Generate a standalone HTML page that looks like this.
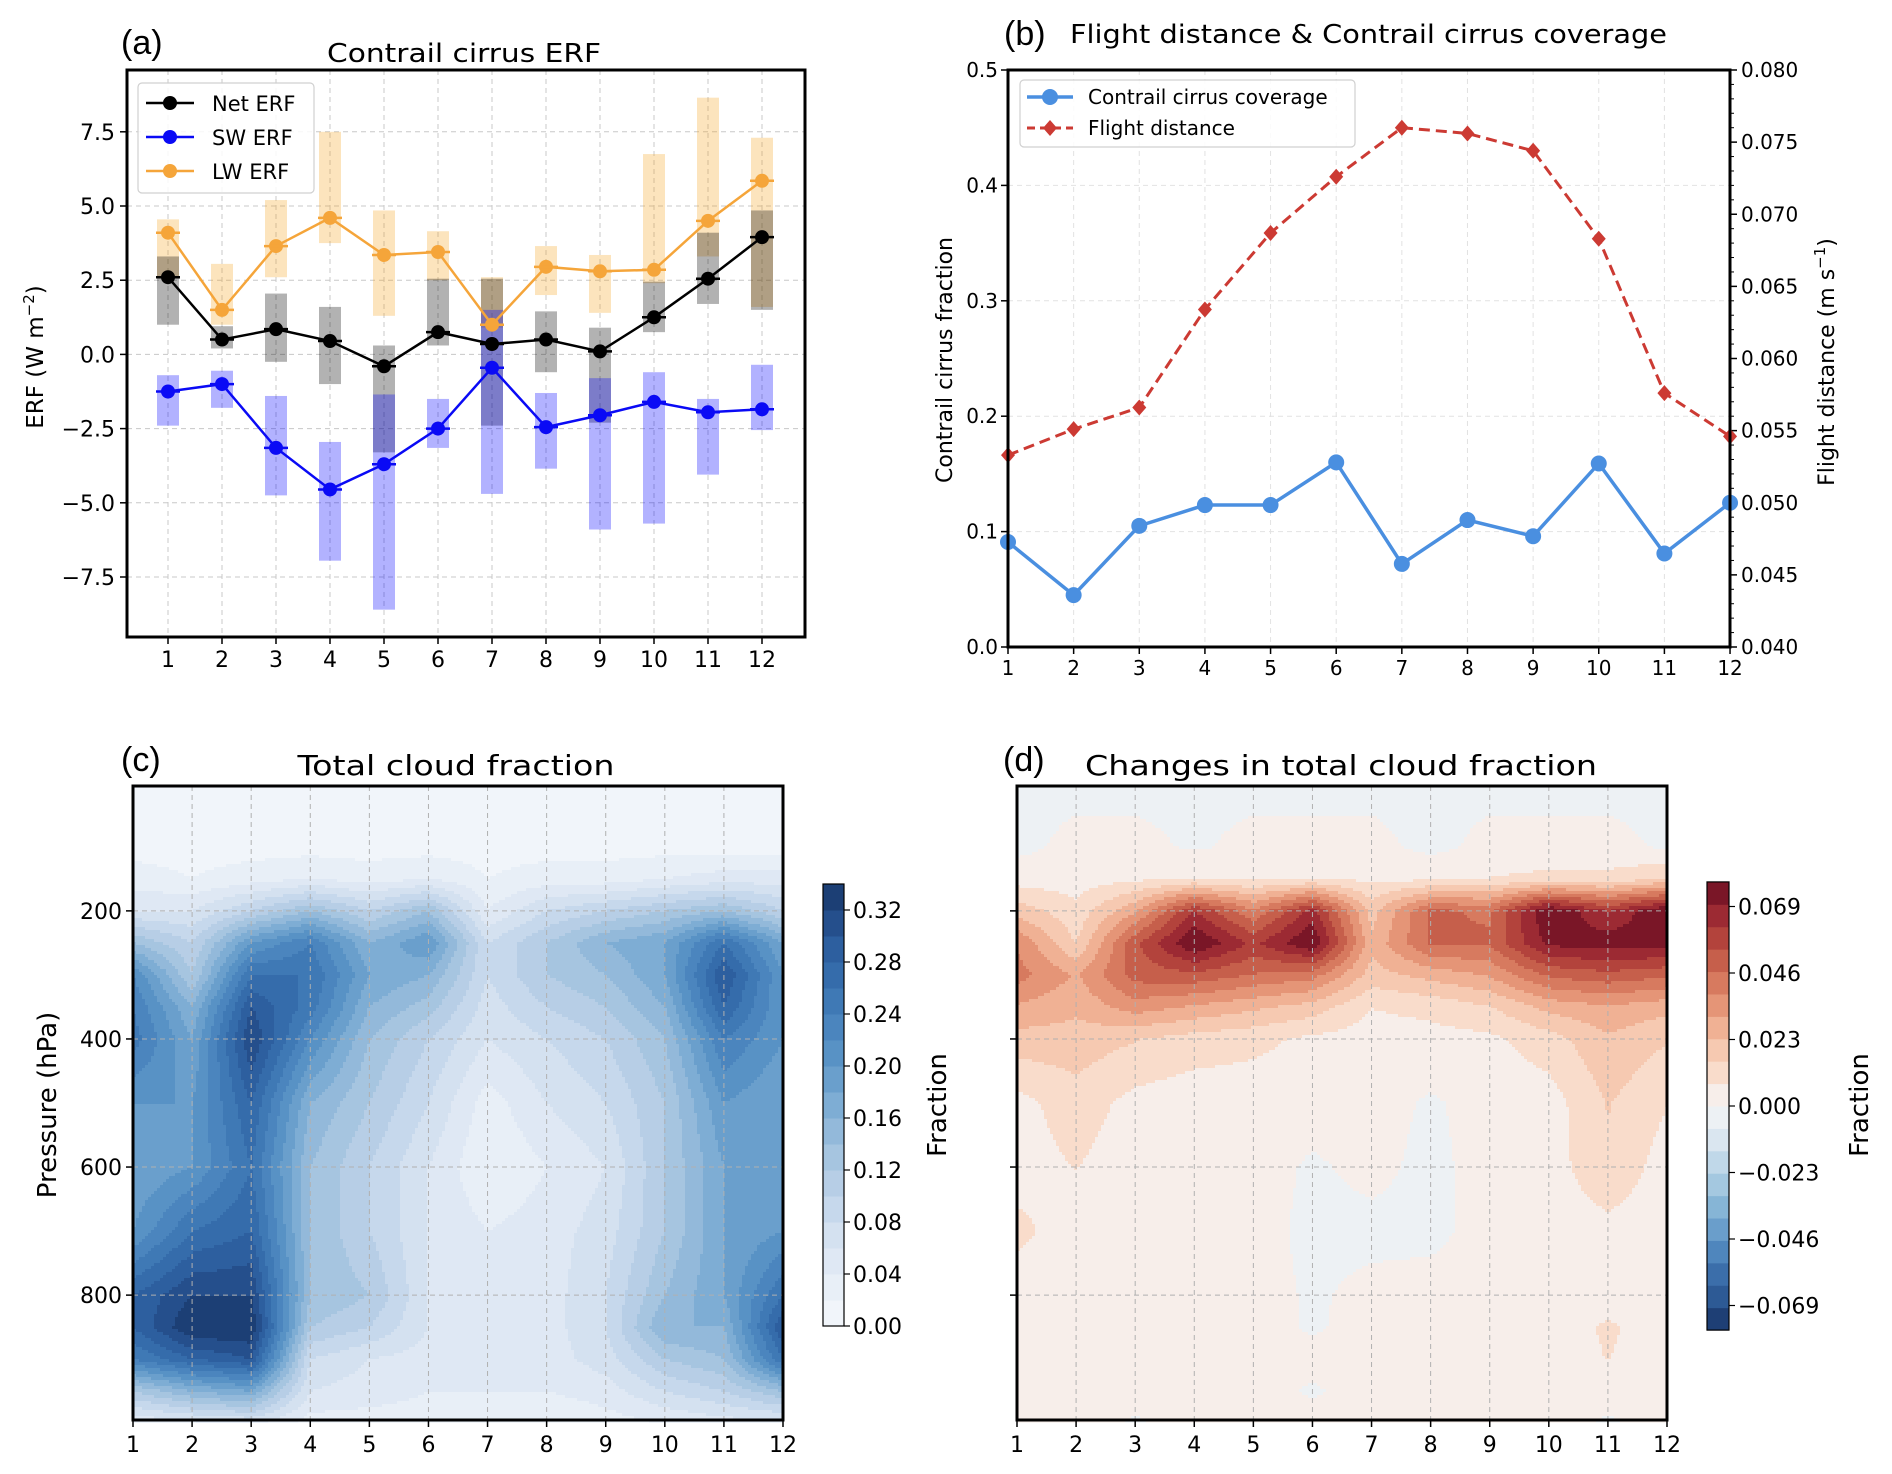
<!DOCTYPE html>
<html><head><meta charset="utf-8"><style>
html,body{margin:0;padding:0;background:#fff;}
svg{display:block;font-family:"DejaVu Sans","Liberation Sans",sans-serif;}
</style></head><body>
<svg id="fig" width="1892" height="1474" viewBox="0 0 1892 1474" xmlns="http://www.w3.org/2000/svg">
<g id="gA"></g>
<g id="gB"></g>
<g id="gC"></g>
<g id="gD"></g>
</svg>
<script>
// ---------- Panel (a) data ----------
const months = [1,2,3,4,5,6,7,8,9,10,11,12];
const netERF = [2.6,0.5,0.85,0.45,-0.4,0.75,0.35,0.5,0.1,1.25,2.55,3.95];
const swERF = [-1.25,-1.0,-3.15,-4.55,-3.7,-2.5,-0.45,-2.45,-2.05,-1.6,-1.95,-1.85];
const lwERF = [4.1,1.5,3.65,4.6,3.35,3.45,1.0,2.95,2.8,2.85,4.5,5.85];
const netLo = [1.0,0.2,-0.25,-1.0,-3.3,0.3,-2.4,-0.6,-2.3,0.75,1.7,1.5];
const netHi = [3.3,0.95,2.05,1.6,0.3,2.55,2.55,1.45,0.9,2.45,4.1,4.85];
const swLo = [-2.4,-1.8,-4.75,-6.95,-8.6,-3.15,-4.7,-3.85,-5.9,-5.7,-4.05,-2.55];
const swHi = [-0.7,-0.55,-1.4,-2.95,-1.35,-1.5,1.5,-1.3,-0.8,-0.6,-1.5,-0.35];
const lwLo = [2.6,1.0,2.6,3.75,1.3,2.5,0.9,2.0,1.4,2.4,3.3,1.6];
const lwHi = [4.55,3.05,5.2,7.5,4.85,4.15,2.6,3.65,3.35,6.75,8.65,7.3];
const erfTicks = [-7.5,-5.0,-2.5,0.0,2.5,5.0,7.5];
// ---------- Panel (b) data ----------
const coverage = [0.091,0.045,0.105,0.123,0.123,0.160,0.072,0.110,0.096,0.159,0.081,0.125];
const flightDist = [0.0533,0.0551,0.0566,0.0634,0.0687,0.0726,0.0760,0.0756,0.0744,0.0683,0.0576,0.0546];
const covTicks = [0.0,0.1,0.2,0.3,0.4,0.5];
const distTicks = [0.040,0.045,0.050,0.055,0.060,0.065,0.070,0.075,0.080];
// ---------- Panel (c)/(d) data ----------
const pressureLevels = [0,100,150,200,250,300,350,400,500,600,700,800,850,900,950,1000];
const cloudFraction = [
[0.01,0.01,0.01,0.01,0.01,0.01,0.01,0.01,0.01,0.01,0.01,0.01],
[0.012,0.012,0.012,0.012,0.012,0.012,0.012,0.012,0.012,0.012,0.012,0.012],
[0.03,0.02,0.03,0.04,0.03,0.04,0.02,0.03,0.03,0.04,0.05,0.05],
[0.06,0.06,0.10,0.14,0.10,0.14,0.04,0.08,0.10,0.12,0.14,0.10],
[0.14,0.10,0.20,0.24,0.16,0.20,0.08,0.12,0.16,0.18,0.26,0.18],
[0.22,0.12,0.26,0.26,0.18,0.16,0.08,0.12,0.14,0.18,0.30,0.20],
[0.24,0.16,0.30,0.25,0.16,0.13,0.07,0.10,0.12,0.16,0.28,0.20],
[0.25,0.18,0.32,0.22,0.14,0.10,0.06,0.08,0.10,0.14,0.24,0.20],
[0.20,0.20,0.28,0.16,0.12,0.08,0.03,0.06,0.08,0.12,0.20,0.18],
[0.18,0.20,0.26,0.14,0.10,0.06,0.02,0.04,0.06,0.12,0.18,0.18],
[0.20,0.26,0.28,0.14,0.10,0.06,0.04,0.05,0.07,0.12,0.18,0.20],
[0.28,0.32,0.32,0.14,0.12,0.06,0.05,0.05,0.08,0.14,0.18,0.26],
[0.28,0.34,0.34,0.12,0.10,0.06,0.05,0.05,0.08,0.16,0.16,0.30],
[0.24,0.28,0.30,0.08,0.06,0.05,0.05,0.05,0.07,0.12,0.14,0.26],
[0.12,0.16,0.18,0.06,0.05,0.04,0.04,0.04,0.05,0.08,0.10,0.14],
[0.04,0.05,0.06,0.03,0.03,0.03,0.02,0.02,0.03,0.04,0.05,0.05]];
const cloudChange = [
[-0.002,-0.002,-0.002,-0.002,-0.002,-0.002,-0.002,-0.002,-0.002,-0.002,-0.002,-0.002],
[-0.002,0.002,0.002,-0.001,0.002,0.002,0.002,-0.002,0.002,0.002,0.002,-0.001],
[0.004,0.004,0.006,0.008,0.006,0.008,0.006,0.006,0.008,0.010,0.010,0.016],
[0.02,0.01,0.03,0.062,0.04,0.065,0.02,0.048,0.045,0.078,0.062,0.078],
[0.038,0.015,0.052,0.078,0.06,0.078,0.025,0.048,0.048,0.072,0.074,0.074],
[0.042,0.03,0.05,0.052,0.046,0.042,0.02,0.026,0.032,0.048,0.052,0.048],
[0.03,0.025,0.035,0.03,0.025,0.02,0.008,0.01,0.015,0.026,0.03,0.026],
[0.02,0.02,0.016,0.012,0.01,0.006,0.004,0.005,0.006,0.012,0.022,0.016],
[0.005,0.012,0.005,0.003,0.003,0.003,0.003,-0.001,0.003,0.004,0.016,0.008],
[0.004,0.008,0.003,0.003,0.003,-0.001,0.002,-0.002,0.003,0.004,0.014,0.004],
[0.010,0.003,0.003,0.003,0.003,-0.002,-0.002,-0.002,0.003,0.003,0.005,0.003],
[0.003,0.003,0.003,0.003,0.003,-0.001,0.002,0.003,0.003,0.003,0.003,0.002],
[0.003,0.003,0.003,0.003,0.003,-0.001,0.003,0.003,0.003,0.003,0.009,0.003],
[0.003,0.003,0.003,0.003,0.003,0.003,0.003,0.003,0.003,0.003,0.008,0.003],
[0.003,0.003,0.003,0.003,0.003,-0.001,0.003,0.003,0.003,0.003,0.003,0.003],
[0.003,0.003,-0.001,0.003,0.003,0.003,0.003,0.003,0.003,0.003,-0.001,0.003]];
const pressureTicks = [200,400,600,800];
const cloudCbTicks = [0.00,0.04,0.08,0.12,0.16,0.20,0.24,0.28,0.32];
const changeCbTicks = [-0.069,-0.046,-0.023,0.000,0.023,0.046,0.069];

const blues = ['#f1f5fa','#e8eff7','#dfe8f4','#d4e1f0','#c6d8ec','#b7cee6','#a6c5e0','#93b9da','#7eadd4','#6a9fcc','#5892c5','#4b85be','#3f79b5','#356cab','#2d5f9f','#254f8c','#1c3f75'];
const reds = ['#f7eeea','#f9dccb','#f6c9b1','#f0b194','#e59577','#d77a5f','#c65f4b','#b3433c','#9c2a33','#7a1627'];
const bluesNeg = ['#edf1f4','#dae6f0','#c0d8e9','#a4c8e0','#86b5d6','#6a9ecb','#4f86bd','#3b6eaa','#2d5a95','#1e3f75'];

const NS='http://www.w3.org/2000/svg';
function mk(parent, tag, attrs, text){
  const e=document.createElementNS(NS,tag);
  for(const k in attrs) e.setAttribute(k,attrs[k]);
  if(text!==undefined) e.textContent=text;
  parent.appendChild(e); return e;
}
function fmtMinus(s){return s.replace('-','\u2212');}

// ===== Panel A =====
const gA=document.getElementById('gA');
const xA=m=>168+(m-1)*54;
const yA=v=>354.4-v*29.68;
erfTicks.forEach(t=>{
  const l=mk(gA,'line',{x1:127,x2:805,y1:yA(t),y2:yA(t),stroke:'#c8c8c8','stroke-width':1,'stroke-dasharray':'5,4'});
  
  
  const tk=mk(gA,'line',{x1:120,x2:127,y1:yA(t),y2:yA(t),stroke:'#000','stroke-width':1.5});
  
  
  const tx=mk(gA,'text',{x:115,y:yA(t)+8,'text-anchor':'end','font-size':22},fmtMinus(t.toFixed(1)));
  
  
});
months.forEach(m=>{
  const l=mk(gA,'line',{x1:xA(m),x2:xA(m),y1:70,y2:637,stroke:'#c8c8c8','stroke-width':1,'stroke-dasharray':'5,4'});
  
  
  const tk=mk(gA,'line',{x1:xA(m),x2:xA(m),y1:637,y2:644,stroke:'#000','stroke-width':1.5});
  
  
  const tx=mk(gA,'text',{x:xA(m),y:667,'text-anchor':'middle','font-size':22},String(m));
  
  
});
function bars(lo,hi,color,name){
  months.forEach((m,i)=>{
    const y1=yA(hi[i]), y2=yA(lo[i]);
    const r=mk(gA,'rect',{x:xA(m)-11,y:y1,width:22,height:y2-y1,fill:color,'fill-opacity':0.3});
    
    
  });
}
bars(lwLo,lwHi,'#f5a623','lw-range-bar');
bars(netLo,netHi,'#000000','net-range-bar');
bars(swLo,swHi,'#0000ff','sw-range-bar');
function series(vals,color,name){
  const pts=months.map((m,i)=>xA(m)+','+yA(vals[i])).join(' ');
  const pl=mk(gA,'polyline',{points:pts,fill:'none',stroke:color,'stroke-width':2.5});
  
  
  months.forEach((m,i)=>{
    const c=mk(gA,'circle',{cx:xA(m),cy:yA(vals[i]),r:7,fill:color});
    
    
    const cap=mk(gA,'line',{x1:xA(m)-12,x2:xA(m)+12,y1:yA(vals[i]),y2:yA(vals[i]),stroke:color,'stroke-width':2.5});
    
    
  });
}
series(lwERF,'#f5a53a','lw-erf');
series(netERF,'#000000','net-erf');
series(swERF,'#0a0af5','sw-erf');
{
  const f=mk(gA,'rect',{x:127,y:70,width:678,height:567,fill:'none',stroke:'#000','stroke-width':3});
  
  
  const lg=mk(gA,'rect',{x:138,y:83,width:176,height:110,rx:4,fill:'#fff','fill-opacity':0.85,stroke:'#d0d0d0','stroke-width':1.2});
  
  
  const ents=[['Net ERF','#000000',103],['SW ERF','#0a0af5',137],['LW ERF','#f5a53a',171]];
  ents.forEach(e=>{
    const l=mk(gA,'line',{x1:146,x2:194,y1:e[2],y2:e[2],stroke:e[1],'stroke-width':2.5});
    
    
    const c=mk(gA,'circle',{cx:170,cy:e[2],r:7,fill:e[1]});
    
    
    const t=mk(gA,'text',{x:212,y:e[2]+8,'font-size':21},e[0]);
    
    
  });
  const tt=mk(gA,'text',{x:464,y:62,'text-anchor':'middle','font-size':26,textLength:274,lengthAdjust:'spacingAndGlyphs'},'Contrail cirrus ERF');
  
  
  const lb=mk(gA,'text',{x:121,y:54,'font-size':34,'font-family':'Liberation Sans'},'(a)');
  
  
  const yl=mk(gA,'text',{x:0,y:0,'text-anchor':'middle','font-size':23,transform:'translate(43,357) rotate(-90)'});
  
  
  yl.innerHTML='ERF (W m<tspan dy="-9" font-size="15">\u22122</tspan><tspan dy="9">)</tspan>';
}

// ===== Panel B =====
const gB=document.getElementById('gB');
const xB=m=>1008+(m-1)*65.64;
const yB=v=>647-v/0.5*577;
const yB2=v=>647-(v-0.04)/0.04*577;
covTicks.forEach(t=>{
  const l=mk(gB,'line',{x1:1008,x2:1730,y1:yB(t),y2:yB(t),stroke:'#e2e2e2','stroke-width':1,'stroke-dasharray':'5,4'});
  
  
  const tk=mk(gB,'line',{x1:1001,x2:1008,y1:yB(t),y2:yB(t),stroke:'#000','stroke-width':1.5});
  
  
  const tx=mk(gB,'text',{x:998,y:yB(t)+7,'text-anchor':'end','font-size':20},t.toFixed(1));
  
  
});
for(let v=0.040; v<=0.0801; v+=0.001){
  const major=Math.abs(Math.round(v*1000)%5)===0;
  const tk=mk(gB,'line',{x1:1730,x2:1730+(major?7:4),y1:yB2(v),y2:yB2(v),stroke:'#000','stroke-width':major?1.5:1});
  
  
}
distTicks.forEach(t=>{
  const tx=mk(gB,'text',{x:1741,y:yB2(t)+7,'font-size':20},t.toFixed(3));
  
  
});
months.forEach(m=>{
  const l=mk(gB,'line',{x1:xB(m),x2:xB(m),y1:70,y2:647,stroke:'#e2e2e2','stroke-width':1,'stroke-dasharray':'5,4'});
  
  
  const tk=mk(gB,'line',{x1:xB(m),x2:xB(m),y1:647,y2:654,stroke:'#000','stroke-width':1.5});
  
  
  const tx=mk(gB,'text',{x:xB(m),y:675,'text-anchor':'middle','font-size':20},String(m));
  
  
});
{
  const pts=months.map((m,i)=>xB(m)+','+yB2(flightDist[i])).join(' ');
  const pl=mk(gB,'polyline',{points:pts,fill:'none',stroke:'#cc3a33','stroke-width':3,'stroke-dasharray':'11,6'});
  
  
  months.forEach((m,i)=>{
    const x=xB(m), y=yB2(flightDist[i]);
    const d=mk(gB,'polygon',{points:`${x},${y-8} ${x+7},${y} ${x},${y+8} ${x-7},${y}`,fill:'#cc3a33'});
    
    
  });
  const pts2=months.map((m,i)=>xB(m)+','+yB(coverage[i])).join(' ');
  const pl2=mk(gB,'polyline',{points:pts2,fill:'none',stroke:'#4a8fe0','stroke-width':3.5});
  
  
  months.forEach((m,i)=>{
    const c=mk(gB,'circle',{cx:xB(m),cy:yB(coverage[i]),r:8,fill:'#4a8fe0'});
    
    
  });
  const f=mk(gB,'rect',{x:1008,y:70,width:722,height:577,fill:'none',stroke:'#000','stroke-width':3});
  
  
  const lg=mk(gB,'rect',{x:1020,y:80,width:335,height:67,rx:4,fill:'#fff','fill-opacity':0.85,stroke:'#d0d0d0','stroke-width':1.2});
  
  
  const l1=mk(gB,'line',{x1:1027,x2:1073,y1:97,y2:97,stroke:'#4a8fe0','stroke-width':3.5});
  
  
  const c1=mk(gB,'circle',{cx:1050,cy:97,r:8,fill:'#4a8fe0'});
  
  
  const t1=mk(gB,'text',{x:1088,y:104,'font-size':20},'Contrail cirrus coverage');
  
  
  const l2=mk(gB,'line',{x1:1027,x2:1073,y1:128,y2:128,stroke:'#cc3a33','stroke-width':3,'stroke-dasharray':'8,5'});
  
  
  const d2=mk(gB,'polygon',{points:'1050,120 1057,128 1050,136 1043,128',fill:'#cc3a33'});
  
  
  const t2=mk(gB,'text',{x:1088,y:135,'font-size':20},'Flight distance');
  
  
  const tt=mk(gB,'text',{x:1070,y:43,'font-size':26,textLength:597,lengthAdjust:'spacingAndGlyphs'},'Flight distance & Contrail cirrus coverage');
  
  
  const lb=mk(gB,'text',{x:1004,y:45,'font-size':34,'font-family':'Liberation Sans'},'(b)');
  
  
  const yl=mk(gB,'text',{x:0,y:0,'text-anchor':'middle','font-size':22,transform:'translate(952,360) rotate(-90)'},'Contrail cirrus fraction');
  
  
  const yr=mk(gB,'text',{x:0,y:0,'text-anchor':'middle','font-size':22,transform:'translate(1834,362) rotate(-90)'});
  
  
  yr.innerHTML='Flight distance (m s<tspan dy="-9" font-size="15">\u22121</tspan><tspan dy="9">)</tspan>';
}

// ===== Panels C & D (filled contours) =====
const yP=p=>786+(p-5)/990*634;
function sample(data,m,p){
  let j=Math.floor(m-1); if(j<0)j=0; if(j>10)j=10; const s=Math.min(1,Math.max(0,m-1-j));
  let i=0; while(i<pressureLevels.length-2 && p>pressureLevels[i+1]) i++;
  const t=Math.min(1,Math.max(0,(p-pressureLevels[i])/(pressureLevels[i+1]-pressureLevels[i])));
  const a=data[i][j]*(1-s)+data[i][j+1]*s;
  const b=data[i+1][j]*(1-s)+data[i+1][j+1]*s;
  return a*(1-t)+b*t;
}
function cloudColor(v){let k=Math.floor(v/0.02); if(k<0)k=0; if(k>16)k=16; return blues[k];}
const dStep=0.0775/10;
function changeColor(v){let k=Math.floor(v/dStep); if(k>=0){if(k>9)k=9; return reds[k];} k=-k-1; if(k>9)k=9; return bluesNeg[k];}
function drawField(g,x0,x1,data,colorFn,name){
  const top=786,bottom=1420,cs=3;
  for(let py=top; py<bottom; py+=cs){
    const p=5+(py+cs/2-top)/634*990;
    let runStart=x0, runColor=null;
    const flush=(endX)=>{
      if(runColor===null) return;
      const r=mk(g,'rect',{x:runStart,y:py,width:endX-runStart+0.6,height:cs+0.6,fill:runColor});
      
      
    };
    for(let px=x0; px<x1; px+=cs){
      const m=1+(Math.min(px+cs/2,x1)-x0)/(x1-x0)*11;
      const col=colorFn(sample(data,m,p));
      if(col!==runColor){ flush(px); runStart=px; runColor=col; }
    }
    flush(x1);
  }
}
function contourPanel(g,x0,x1,data,colorFn,name,showY){
  const xM=m=>x0+(m-1)*(x1-x0)/11;
  drawField(g,x0,x1,data,colorFn,name);
  months.forEach(m=>{
    const l=mk(g,'line',{x1:xM(m),x2:xM(m),y1:786,y2:1420,stroke:'#b0b0b0','stroke-width':1,'stroke-dasharray':'5,4'});
    
    
    const tk=mk(g,'line',{x1:xM(m),x2:xM(m),y1:1420,y2:1427,stroke:'#000','stroke-width':1.5});
    
    
    const tx=mk(g,'text',{x:xM(m),y:1452,'text-anchor':'middle','font-size':22},String(m));
    
    
  });
  pressureTicks.forEach(p=>{
    const l=mk(g,'line',{x1:x0,x2:x1,y1:yP(p),y2:yP(p),stroke:'#b0b0b0','stroke-width':1,'stroke-dasharray':'5,4'});
    
    
    const tk=mk(g,'line',{x1:x0-7,x2:x0,y1:yP(p),y2:yP(p),stroke:'#000','stroke-width':1.5});
    
    
    if(showY){
      const tx=mk(g,'text',{x:x0-11,y:yP(p)+8,'text-anchor':'end','font-size':22},String(p));
      
      
    }
  });
  const f=mk(g,'rect',{x:x0,y:786,width:x1-x0,height:634,fill:'none',stroke:'#000','stroke-width':3});
  
  
}
const gC=document.getElementById('gC');
contourPanel(gC,133,783,cloudFraction,cloudColor,'cloud-fraction-cell',true);
{
  const yCb=v=>1326-v/0.32*416;
  for(let k=0;k<17;k++){
    const r=mk(gC,'rect',{x:823,y:yCb((k+1)*0.02),width:21,height:yCb(k*0.02)-yCb((k+1)*0.02)+0.5,fill:blues[k]});
    
    
  }
  const cf=mk(gC,'rect',{x:823,y:yCb(0.34),width:21,height:yCb(0)-yCb(0.34),fill:'none',stroke:'#000','stroke-width':1.2});
  
  
  cloudCbTicks.forEach(t=>{
    const tk=mk(gC,'line',{x1:844,x2:850,y1:yCb(t),y2:yCb(t),stroke:'#000','stroke-width':1.2});
    
    
    const tx=mk(gC,'text',{x:853,y:yCb(t)+8,'font-size':22},t.toFixed(2));
    
    
  });
  const cl=mk(gC,'text',{x:0,y:0,'text-anchor':'middle','font-size':26,transform:'translate(946,1105) rotate(-90)'},'Fraction');
  
  
  const tt=mk(gC,'text',{x:456,y:775,'text-anchor':'middle','font-size':28,textLength:317,lengthAdjust:'spacingAndGlyphs'},'Total cloud fraction');
  
  
  const lb=mk(gC,'text',{x:121,y:771,'font-size':34,'font-family':'Liberation Sans'},'(c)');
  
  
  const yl=mk(gC,'text',{x:0,y:0,'text-anchor':'middle','font-size':26,transform:'translate(56,1105) rotate(-90)'},'Pressure (hPa)');
  
  
}
const gD=document.getElementById('gD');
contourPanel(gD,1017,1667,cloudChange,changeColor,'cloud-change-cell',false);
{
  const yDb=v=>1106-v/0.023*66.5;
  for(let k=-10;k<10;k++){
    const col=k>=0?reds[k]:bluesNeg[-k-1];
    const r=mk(gD,'rect',{x:1707,y:yDb((k+1)*dStep),width:22,height:yDb(k*dStep)-yDb((k+1)*dStep)+0.5,fill:col});
    
    
  }
  const cf=mk(gD,'rect',{x:1707,y:yDb(0.0775),width:22,height:yDb(-0.0775)-yDb(0.0775),fill:'none',stroke:'#000','stroke-width':1.2});
  
  
  changeCbTicks.forEach(t=>{
    const tk=mk(gD,'line',{x1:1729,x2:1735,y1:yDb(t),y2:yDb(t),stroke:'#000','stroke-width':1.2});
    
    
    const tx=mk(gD,'text',{x:1738,y:yDb(t)+8,'font-size':22},fmtMinus(t.toFixed(3)));
    
    
  });
  const cl=mk(gD,'text',{x:0,y:0,'text-anchor':'middle','font-size':26,transform:'translate(1868,1105) rotate(-90)'},'Fraction');
  
  
  const tt=mk(gD,'text',{x:1085,y:775,'font-size':28,textLength:512,lengthAdjust:'spacingAndGlyphs'},'Changes in total cloud fraction');
  
  
  const lb=mk(gD,'text',{x:1003,y:771,'font-size':34,'font-family':'Liberation Sans'},'(d)');
  
  
}
</script>
</body></html>
